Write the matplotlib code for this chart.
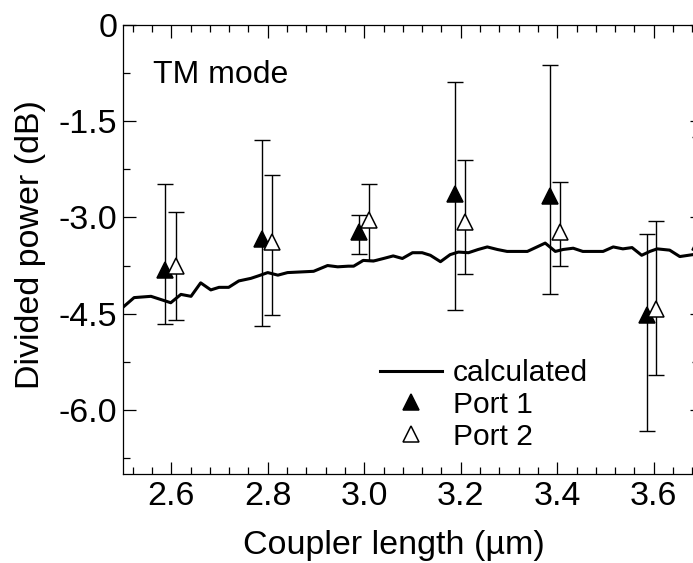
import matplotlib
matplotlib.use("Agg")
import matplotlib.pyplot as plt
import numpy as np
from matplotlib.ticker import MultipleLocator, FixedLocator, FixedFormatter

plt.rcParams['font.family'] = ['Liberation Sans', 'DejaVu Sans']

# calculated curve
calc_x = [2.500, 2.523, 2.558, 2.599, 2.620, 2.641, 2.661, 2.682, 2.699, 2.719,
          2.740, 2.765, 2.781, 2.800, 2.821, 2.841, 2.868, 2.895, 2.924, 2.945,
          2.967, 2.978, 2.998, 3.019, 3.040, 3.060, 3.079, 3.100, 3.120, 3.137,
          3.158, 3.178, 3.195, 3.216, 3.236, 3.255, 3.276, 3.296, 3.338, 3.358,
          3.375, 3.396, 3.412, 3.433, 3.453, 3.495, 3.516, 3.536, 3.555, 3.575,
          3.592, 3.607, 3.633, 3.654, 3.681, 3.700]
calc_y = [-4.40, -4.25, -4.23, -4.33, -4.20, -4.23, -4.02, -4.13, -4.09, -4.09,
          -3.99, -3.95, -3.91, -3.86, -3.90, -3.86, -3.85, -3.84, -3.75, -3.77,
          -3.76, -3.76, -3.67, -3.68, -3.64, -3.60, -3.64, -3.55, -3.55, -3.59,
          -3.69, -3.58, -3.54, -3.55, -3.50, -3.46, -3.50, -3.53, -3.53, -3.46,
          -3.40, -3.53, -3.50, -3.48, -3.53, -3.53, -3.46, -3.49, -3.47, -3.59,
          -3.53, -3.49, -3.51, -3.61, -3.58, -3.56]

# Port 1 (filled)
p1_x = [2.588, 2.789, 2.990, 3.188, 3.386, 3.586, 3.695]
p1_y = [-3.82, -3.33, -3.23, -2.64, -2.66, -4.52, -3.38]
p1_hi = [-2.48, -1.80, -2.96, -0.89, -0.62, -3.26, -1.74]
p1_lo = [-4.66, -4.69, -3.57, -4.45, -4.19, -6.33, -5.26]

# Port 2 (open)
p2_x = [2.610, 2.808, 3.010, 3.208, 3.406, 3.605]
p2_y = [-3.75, -3.38, -3.04, -3.07, -3.22, -4.43]
p2_hi = [-2.91, -2.34, -2.48, -2.10, -2.45, -3.06]
p2_lo = [-4.60, -4.52, -3.66, -3.88, -3.75, -5.45]

y_ticks = [0, -1.5, -3.0, -4.5, -6.0]
y_ticklabels = ['0', '-1.5', '-3.0', '-4.5', '-6.0']
x_ticks = [2.6, 2.8, 3.0, 3.2, 3.4, 3.6]
x_ticklabels = ['2.6', '2.8', '3.0', '3.2', '3.4', '3.6']

fig = plt.figure(figsize=(6.93, 5.63), dpi=100)
ax = fig.add_axes([123/693, 89/563, (702-123)/693, 449/563])

def errs(y, hi, lo):
    y = np.array(y); return [y - np.array(lo), np.array(hi) - y]

ax.errorbar(p1_x, p1_y, yerr=errs(p1_y, p1_hi, p1_lo), fmt='none', ecolor='black',
            elinewidth=1.0, capsize=5.8, capthick=1.0, zorder=2)
ax.errorbar(p2_x, p2_y, yerr=errs(p2_y, p2_hi, p2_lo), fmt='none', ecolor='black',
            elinewidth=1.0, capsize=5.8, capthick=1.0, zorder=2)
ax.plot(calc_x, calc_y, color='black', lw=2.2, zorder=3, label='calculated')
ax.plot(p1_x, p1_y, linestyle='none', marker='^', ms=11.5, mfc='black', mec='black',
        mew=1.1, zorder=4, label='Port 1')
ax.plot(p2_x, p2_y, linestyle='none', marker='^', ms=11.5, mfc='white', mec='black',
        mew=1.1, zorder=5, label='Port 2')

ax.set_xlim(2.5, 3.7)
ax.set_ylim(-7.0, 0)
ax.xaxis.set_major_locator(FixedLocator(x_ticks))
ax.xaxis.set_major_formatter(FixedFormatter(x_ticklabels))
ax.xaxis.set_minor_locator(MultipleLocator(0.04))
ax.yaxis.set_major_locator(FixedLocator(y_ticks))
ax.yaxis.set_major_formatter(FixedFormatter(y_ticklabels))
ax.yaxis.set_minor_locator(MultipleLocator(0.75))

ax.tick_params(which='both', direction='in', top=True, right=True, width=0.9, colors='black')
ax.tick_params(which='major', length=9, labelsize=24.5)
ax.tick_params(axis='x', which='major', pad=5)
ax.tick_params(axis='y', which='major', pad=4)
ax.tick_params(which='minor', length=4.8)
for s in ax.spines.values():
    s.set_linewidth(0.9)

ax.set_xlabel('Coupler length (µm)', fontsize=24.5)
ax.xaxis.set_label_coords(0.467, -0.124)
ax.set_ylabel('Divided power (dB)', fontsize=24.5)
ax.yaxis.set_label_coords(-0.133, 0.51)

ax.text(2.563, -0.90, 'TM mode', fontsize=23, va='baseline', ha='left')

leg = ax.legend(loc='upper left', bbox_to_anchor=(0.444, 0.256), frameon=False,
                fontsize=21.6, handlelength=2.07, handletextpad=0.36, labelspacing=0.13,
                borderpad=0, borderaxespad=0, markerscale=1.0)

fig.savefig('out.png', dpi=100)
